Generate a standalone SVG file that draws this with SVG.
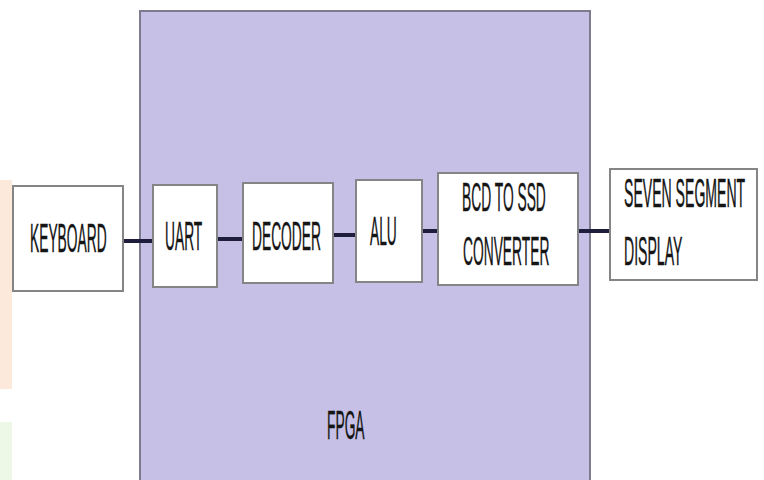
<svg xmlns="http://www.w3.org/2000/svg" width="764" height="480" viewBox="0 0 764 480">
<style>
.box{fill:#ffffff;stroke:#858585;stroke-width:2}
.lbl{font-family:"Liberation Sans",Arial,sans-serif;font-size:40px;fill:#151515;stroke:#151515;stroke-width:0.3px;vector-effect:non-scaling-stroke}
.wire{stroke:#1e1e3c;stroke-width:4;fill:none}
</style>
<rect x="0" y="0" width="764" height="480" fill="#ffffff"/>
<rect x="0" y="180" width="12" height="209" fill="#fde9dc"/>
<rect x="0" y="422" width="12" height="58" fill="#eef8e6"/>
<g id="fpga">
<rect x="140" y="11" width="450" height="475" fill="#c6c0e6" stroke="#7d7b8e" stroke-width="2"/>
<text class="lbl" transform="translate(327,439) scale(0.345,1)">FPGA</text>
</g>
<g id="connectors">
<line class="wire" x1="122" y1="241" x2="158" y2="241"/>
<line class="wire" x1="217" y1="239" x2="243" y2="239"/>
<line class="wire" x1="333" y1="235" x2="356" y2="235"/>
<line class="wire" x1="422" y1="231" x2="438" y2="231"/>
<line class="wire" x1="578" y1="231" x2="610" y2="231"/>
</g>
<g id="keyboard">
<rect class="box" x="13" y="186" width="110" height="105"/>
<text class="lbl" transform="translate(30,252) scale(0.345,1)">KEYBOARD</text>
</g>
<g id="uart">
<rect class="box" x="153" y="185" width="64" height="102"/>
<text class="lbl" transform="translate(165,250) scale(0.345,1)">UART</text>
</g>
<g id="decoder">
<rect class="box" x="243" y="183" width="90" height="100"/>
<text class="lbl" transform="translate(252,250) scale(0.345,1)">DECODER</text>
</g>
<g id="alu">
<rect class="box" x="356" y="180" width="66" height="102"/>
<text class="lbl" transform="translate(370,245) scale(0.345,1)">ALU</text>
</g>
<g id="bcd">
<rect class="box" x="438" y="173" width="140" height="112"/>
<text class="lbl" transform="translate(462,211) scale(0.345,1)">BCD TO SSD</text>
<text class="lbl" transform="translate(463,265) scale(0.345,1)">CONVERTER</text>
</g>
<g id="seven">
<rect class="box" x="610" y="169" width="147" height="111"/>
<text class="lbl" transform="translate(624,207) scale(0.352,1)">SEVEN SEGMENT</text>
<text class="lbl" transform="translate(624,265) scale(0.352,1)">DISPLAY</text>
</g>
</svg>
